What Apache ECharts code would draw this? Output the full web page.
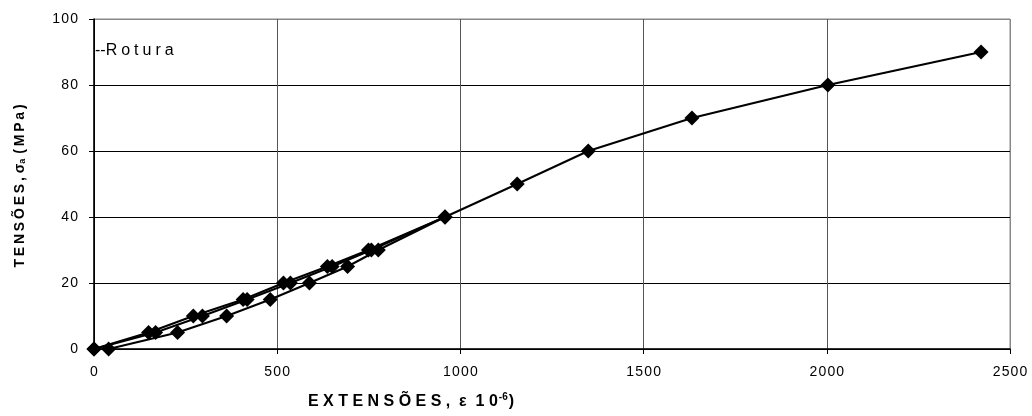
<!DOCTYPE html>
<html>
<head>
<meta charset="utf-8">
<script src="https://cdn.jsdelivr.net/npm/echarts@6/dist/echarts.min.js"></script>
<style>html,body{margin:0;padding:0;background:#fff}#c{width:1032px;height:416px}</style>
</head>
<body>
<div id="c"></div>
<script>
// Data
const stressLevels = [0, 5, 10, 15, 20, 25, 30, 40, 50, 60, 70, 80, 90];
const strainCycle1 = [40, 228, 362, 481, 588, 692, 776, 958];
const strainCycle2 = [0, 149, 271, 407, 517, 637, 749, 958];
const strainCycle3 = [0, 168, 296, 418, 536, 650, 757, 958, 1155, 1349, 1632, 2003, 2421];
const xTicks = [0, 500, 1000, 1500, 2000, 2500];
const yTicks = [0, 20, 40, 60, 80, 100];
const legendLabel = '--Rotura';

function pairs(strains) {
  return strains.map((s, i) => [s, stressLevels[i]]);
}
const HS = '\u200A';
function spaced(v) { return String(v).split('').join(HS); }

const chart = echarts.init(document.getElementById('c'), null, {renderer: 'canvas'});
const baseSeries = {
  type: 'line',
  symbol: 'diamond',
  symbolSize: 15,
  showSymbol: true,
  itemStyle: {color: '#000'},
  lineStyle: {color: '#000', width: 2},
  emphasis: {disabled: true},
  animation: false
};
chart.setOption({
  animation: false,
  grid: {left: 94, right: 22, top: 19, bottom: 67, show: true, borderColor: '#888', borderWidth: 1},
  xAxis: {
    type: 'value', min: xTicks[0], max: xTicks[xTicks.length - 1], interval: 500,
    axisLine: {show: true, lineStyle: {color: '#000', width: 1.5}},
    axisTick: {show: true, inside: false, length: 5, lineStyle: {color: '#000'}},
    axisLabel: {fontSize: 14, color: '#000', fontFamily: 'Liberation Sans', margin: 16, formatter: spaced},
    splitLine: {show: true, lineStyle: {color: ['#000', '#555', '#555', '#555', '#555', '#888'], width: 1}}
  },
  yAxis: {
    type: 'value', min: yTicks[0], max: yTicks[yTicks.length - 1], interval: 20,
    axisLine: {show: true, lineStyle: {color: '#000', width: 1.5}},
    axisTick: {show: true, inside: false, length: 5, lineStyle: {color: '#000'}},
    axisLabel: {fontSize: 14, color: '#000', fontFamily: 'Liberation Sans', margin: 16, formatter: spaced},
    splitLine: {show: true, lineStyle: {color: ['#000', '#000', '#000', '#000', '#000', '#888'], width: 1}}
  },
  series: [
    Object.assign({name: 'Ciclo 1', data: pairs(strainCycle1)}, baseSeries),
    Object.assign({name: 'Ciclo 2', data: pairs(strainCycle2)}, baseSeries),
    Object.assign({name: legendLabel, data: pairs(strainCycle3)}, baseSeries)
  ],
  graphic: [
    {
      type: 'text', left: 95, top: 43, silent: true,
      style: {text: '--' + 'Rotura'.split('').join('\u2005'), fontSize: 16, fontFamily: 'Liberation Sans', fill: '#000'}
    },
    {
      type: 'text', x: 411, y: 402, silent: true,
      style: {
        text: '{b|E X T E N S Õ E S ,  ε  1 0}{s|-6}{b|)}',
        align: 'center', verticalAlign: 'middle',
        rich: {
          b: {fontSize: 16, fontWeight: 'bold', fontFamily: 'Liberation Sans', fill: '#000', lineHeight: 20},
          s: {fontSize: 10, fontWeight: 'bold', fontFamily: 'Liberation Sans', fill: '#000', verticalAlign: 'top', lineHeight: 20, padding: [0, 1, 8, 1]}
        }
      }
    },
    {
      type: 'text', x: 20, y: 186, rotation: Math.PI / 2, silent: true,
      style: {
        text: '{b|' + 'TENSÕES,'.split('').join('\u2009') + ' σ}{s|a}{b| ' + '(MPa)'.split('').join('\u2009') + '}',
        align: 'center', verticalAlign: 'middle',
        rich: {
          b: {fontSize: 14, fontWeight: 'bold', fontFamily: 'Liberation Sans', fill: '#000', lineHeight: 18},
          s: {fontSize: 9, fontWeight: 'bold', fontFamily: 'Liberation Sans', fill: '#000', lineHeight: 18, padding: [6, 1, 0, 0]}
        }
      }
    }
  ]
});
</script>
</body>
</html>
